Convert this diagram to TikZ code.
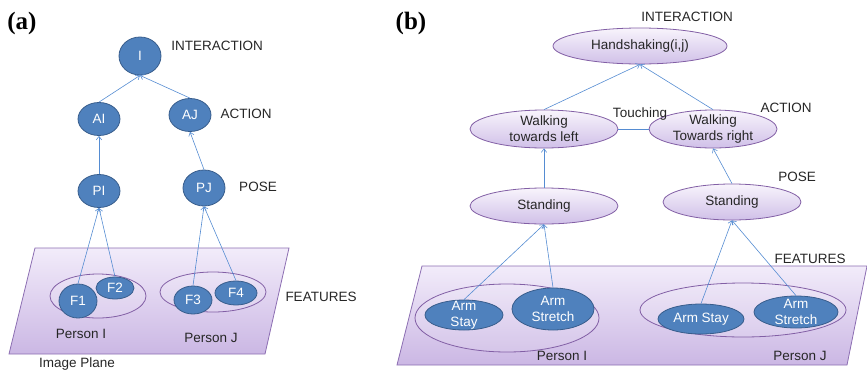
\documentclass[tikz,border=0pt]{standalone}
\usepackage{fontspec}
\setmainfont{Liberation Sans}
\newfontfamily\panelfont{Liberation Serif}
\usetikzlibrary{shapes.geometric,arrows.meta}
\definecolor{blueFill}{RGB}{79,129,189}
\definecolor{blueDraw}{RGB}{56,93,140}
\definecolor{arrowBlue}{RGB}{85,140,210}
\definecolor{lavTop}{RGB}{248,244,252}
\definecolor{lavBot}{RGB}{208,192,232}
\definecolor{lavDraw}{RGB}{130,95,165}
\definecolor{planeTop}{RGB}{242,236,250}
\definecolor{planeBot}{RGB}{203,183,228}
\definecolor{planeDraw}{RGB}{140,110,178}
\tikzset{
  every node/.style={font=\fontsize{13.5}{16}\selectfont},
  ell/.style 2 args={ellipse, inner sep=0pt, minimum width=#1pt, minimum height=#2pt},
  dark/.style={draw=blueDraw, line width=0.8pt, fill=blueFill},
  lav/.style={draw=lavDraw, line width=0.8pt, top color=lavTop, bottom color=lavBot},
  grp/.style={draw=lavDraw, line width=0.8pt, fill=white, fill opacity=0.12},
  wtxt/.style={text=white, align=center, inner sep=0pt},
  btxt/.style={text=black!85, align=center, inner sep=0pt},
  lbl/.style={text=black!85, anchor=base, inner sep=0pt},
  plane/.style={draw=planeDraw, line width=0.8pt, top color=planeTop, bottom color=planeBot},
  conn/.style={draw=arrowBlue, line width=0.6pt, -{Straight Barb[length=3.5pt,width=5.5pt]}},
  link/.style={draw=arrowBlue, line width=0.8pt},
  panel/.style={anchor=base, inner sep=0pt, font=\panelfont\bfseries\fontsize{25}{25}\selectfont}
}
\begin{document}
\begin{tikzpicture}[x=1pt,y=-1pt]
\useasboundingbox (0,0) rectangle (867,370);
% ---------------- panel (a) ----------------
\node[panel] (pa) at (22,29) {(a)};
\draw[plane] (35,248) -- (289,248) -- (265,354) -- (9,354) -- cycle;
\node[grp, ell={96}{44}] (gI) at (98,296) {};
\node[grp, ell={106}{40}] (gJ) at (213,292) {};
\node[dark, ell={38}{22}] (F2) at (115,288) {};
\node[dark, ell={38}{34}] (F1) at (78,301) {};
\node[dark, ell={38}{28}] (F3) at (193,300) {};
\node[dark, ell={42}{24}] (F4) at (236,293) {};
\node[wtxt] (F1t) at (F1) {F1};
\node[wtxt] (F2t) at (F2) {F2};
\node[wtxt] (F3t) at (F3) {F3};
\node[wtxt] (F4t) at (F4) {F4};
\node[dark, ell={42}{38}] (I) at (140,56) {};
\node[dark, ell={42}{33}] (AI) at (99,119) {};
\node[dark, ell={42}{33}] (AJ) at (190,115) {};
\node[dark, ell={42}{33}] (PI) at (99,191) {};
\node[dark, ell={42}{36}] (PJ) at (204,188) {};
\node[wtxt] (It) at (I) {I};
\node[wtxt] (AIt) at (AI) {AI};
\node[wtxt] (AJt) at (AJ) {AJ};
\node[wtxt] (PIt) at (PI) {PI};
\node[wtxt] (PJt) at (PJ) {PJ};
\draw[conn] (AI.north) -- (I.south);
\draw[conn] (AJ.north) -- (I.south);
\draw[conn] (PI.north) -- (AI.south);
\draw[conn] (PJ.north) -- (AJ.south);
\draw[conn] (F1.north) -- (PI.south);
\draw[conn] (F2.north) -- (PI.south);
\draw[conn] (F3.north) -- (PJ.south);
\draw[conn] (F4.north) -- (PJ.south);
\node[lbl] (la1) at (217,50) {INTERACTION};
\node[lbl] (la2) at (246,118) {ACTION};
\node[lbl] (la3) at (258,191) {POSE};
\node[lbl] (la4) at (321,301) {FEATURES};
\node[lbl] (la5) at (81,338) {Person I};
\node[lbl] (la6) at (211,342) {Person J};
\node[lbl] (la7) at (77,367) {Image Plane};
% ---------------- panel (b) ----------------
\node[panel] (pb) at (411,29) {(b)};
\draw[plane] (422,266) -- (867,266) -- (847,365) -- (397,365) -- cycle;
\node[grp, ell={184}{68}] (gIb) at (507,318) {};
\node[grp, ell={206}{54}] (gJb) at (743,310) {};
\node[dark, ell={78}{30}] (ASL) at (464,315) {};
\node[dark, ell={82}{42}] (ATL) at (553,309) {};
\node[dark, ell={86}{30}] (ASR) at (701,319) {};
\node[dark, ell={84}{32}] (ATR) at (796,312) {};
\node[wtxt] (ASLt) at (ASL) {Arm\\Stay};
\node[wtxt] (ATLt) at (ATL) {Arm\\Stretch};
\node[wtxt] (ASRt) at (ASR) {Arm Stay};
\node[wtxt] (ATRt) at (ATR) {Arm\\Stretch};
\node[lav, ell={174}{36}] (HS) at (640,46) {};
\node[lav, ell={148}{38}] (WL) at (544,129) {};
\node[lav, ell={128}{38}] (WR) at (713,129) {};
\node[lav, ell={148}{36}] (SL) at (544,206) {};
\node[lav, ell={138}{36}] (SR) at (732,202) {};
\node[btxt] (HSt) at (HS) {Handshaking(i,j)};
\node[btxt] (WLt) at (WL) {Walking\\towards left};
\node[btxt] (WRt) at (WR) {Walking\\Towards right};
\node[btxt] (SLt) at (SL) {Standing};
\node[btxt] (SRt) at (SR) {Standing};
\draw[conn] (WL.north) -- (HS.south);
\draw[conn] (WR.north) -- (HS.south);
\draw[link] (WL.east) -- (WR.west);
\draw[conn] (SL.north) -- (WL.south);
\draw[conn] (SR.north) -- (WR.south);
\draw[conn] (ASL.north) -- (SL.south);
\draw[conn] (ATL.north) -- (SL.south);
\draw[conn] (ASR.north) -- (SR.south);
\draw[conn] (ATR.north) -- (SR.south);
\node[lbl] (lb1) at (687,21) {INTERACTION};
\node[lbl] (lb2) at (786,112) {ACTION};
\node[lbl] (lb3) at (640,117) {Touching};
\node[lbl] (lb4) at (797,181) {POSE};
\node[lbl] (lb5) at (810,263) {FEATURES};
\node[lbl] (lb6) at (562,360) {Person I};
\node[lbl] (lb7) at (800,360) {Person J};
\end{tikzpicture}
\end{document}
